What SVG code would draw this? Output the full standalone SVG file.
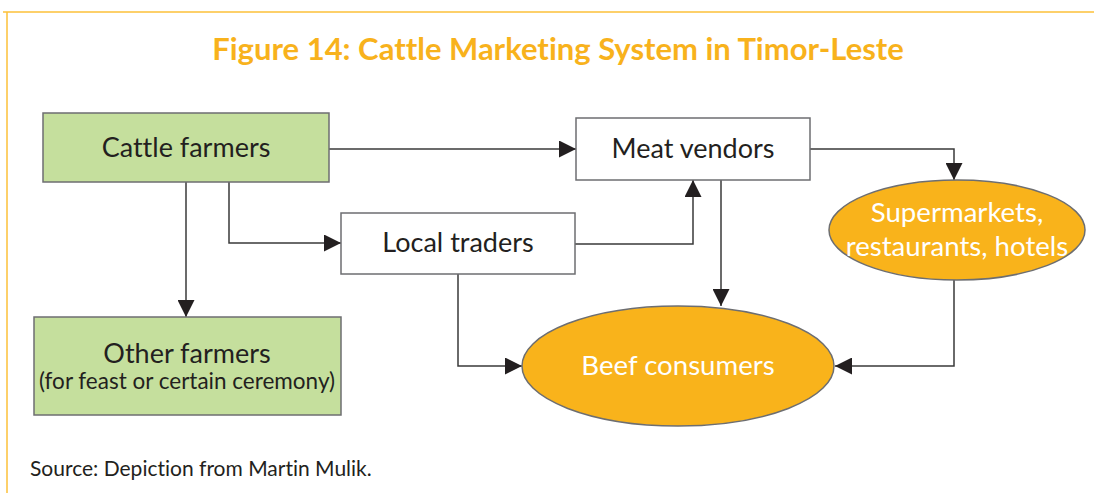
<svg xmlns="http://www.w3.org/2000/svg" width="1094" height="493" viewBox="0 0 1094 493">
<style>
text{font-variant-ligatures:none}
.box{stroke:#6d6e71;stroke-width:1.5}
.green{fill:#c5df9d}
.white{fill:#ffffff}
.oval{fill:#f9b31b;stroke:#6d6e71;stroke-width:1.5}
.lbl{font-family:Lato,"Liberation Sans",sans-serif;font-size:27px;fill:#231f20;text-anchor:middle}
.wl{font-family:Lato,"Liberation Sans",sans-serif;font-size:27.6px;fill:#ffffff;text-anchor:middle}
.con{fill:none;stroke:#3a3a3a;stroke-width:1.5}
</style>
<defs>
<marker id="ah" viewBox="0 0 10 10" refX="10" refY="5" markerWidth="17" markerHeight="17" markerUnits="userSpaceOnUse" orient="auto">
<path d="M0,0 L10,5 L0,10 z" fill="#231f20"/>
</marker>
</defs>
<rect width="1094" height="493" fill="#ffffff"/>
<path d="M3,12 H1094 M7,12 V493" fill="none" stroke="#fdc13a" stroke-width="1.5"/>
<text x="558" y="60" font-family="Lato,'Liberation Sans',sans-serif" font-weight="bold" font-size="31" fill="#f8b21c" text-anchor="middle">Figure 14: Cattle Marketing System in Timor-Leste</text>
<g id="connectors">
<path class="con" d="M329,149 H576" marker-end="url(#ah)"/>
<path class="con" d="M186,182 V317" marker-end="url(#ah)"/>
<path class="con" d="M229,182 V243 H341" marker-end="url(#ah)"/>
<path class="con" d="M575,244 H693 V180" marker-end="url(#ah)"/>
<path class="con" d="M721,180 V306" marker-end="url(#ah)"/>
<path class="con" d="M458,274 V366 H522" marker-end="url(#ah)"/>
<path class="con" d="M810,149 H954 V180" marker-end="url(#ah)"/>
<path class="con" d="M954,280 V366 H835" marker-end="url(#ah)"/>
</g>
<g id="cattle-farmers">
<rect class="box green" x="43" y="113" width="286" height="69"/>
<text class="lbl" x="186" y="157">Cattle farmers</text>
</g>
<g id="other-farmers">
<rect class="box green" x="34" y="317" width="307" height="98"/>
<text class="lbl" x="187" y="363">Other farmers</text>
<text class="lbl" x="187" y="389" style="font-size:22.5px">(for feast or certain ceremony)</text>
</g>
<g id="local-traders">
<rect class="box white" x="341" y="213" width="234" height="61"/>
<text class="lbl" x="458" y="252">Local traders</text>
</g>
<g id="meat-vendors">
<rect class="box white" x="576" y="118" width="234" height="62"/>
<text class="lbl" x="693" y="158">Meat vendors</text>
</g>
<g id="beef-consumers">
<ellipse class="oval" cx="678" cy="366" rx="156" ry="60"/>
<text class="wl" x="678" y="375">Beef consumers</text>
</g>
<g id="supermarkets">
<ellipse class="oval" cx="957" cy="230" rx="128" ry="50"/>
<text class="wl" x="957" y="222">Supermarkets,</text>
<text class="wl" x="957" y="256">restaurants, hotels</text>
</g>
<text x="30" y="476" font-family="Lato,'Liberation Sans',sans-serif" font-size="21" fill="#231f20">Source: Depiction from Martin Mulik.</text>
</svg>
